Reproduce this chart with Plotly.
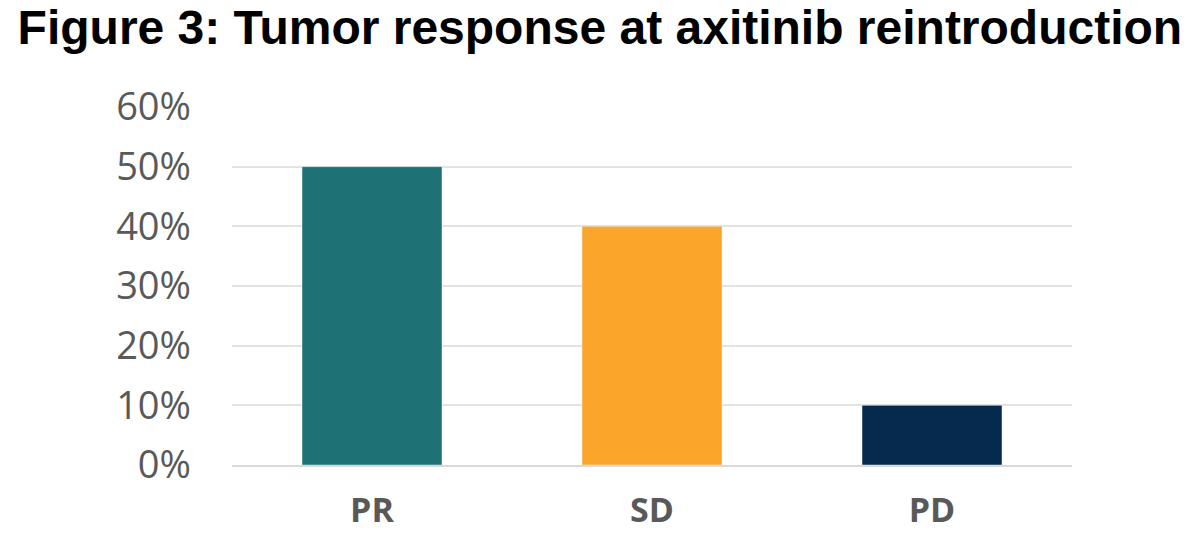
import plotly.graph_objects as go

categories = ["PR", "SD", "PD"]
values = [0.50, 0.40, 0.10]
colors = ["#1E7275", "#FBA62B", "#052A4D"]
tick_vals = [0, 0.1, 0.2, 0.3, 0.4, 0.5, 0.6]
tick_text = ["0%", "10%", "20%", "30%", "40%", "50%", "60%"]

fig = go.Figure(go.Bar(x=categories, y=values, marker_color=colors, width=0.5))
fig.update_layout(
    width=1200, height=543,
    margin=dict(l=224, r=136, t=99, b=86),
    paper_bgcolor="white", plot_bgcolor="white",
    showlegend=False,
    title=dict(text="<b>Figure 3: Tumor response at axitinib reintroduction</b>",
               x=0.008, xanchor="left", y=0.995, yanchor="top",
               font=dict(family="Liberation Sans, Arial", size=48, color="black")),
    yaxis=dict(range=[0, 0.6], tickvals=tick_vals, ticktext=tick_text,
               showgrid=True, gridcolor="#E3E3E3", gridwidth=1.5, zeroline=False,
               ticks="", ticklabelstandoff=40,
               tickfont=dict(family="Open Sans, Liberation Sans", size=38, color="#595959")),
    xaxis=dict(showline=True, linecolor="#D9D9D9", linewidth=1.5, ticks="",
               tickfont=dict(family="Open Sans, Liberation Sans", size=34, color="#595959",
                             weight="bold"),
               ticklabelstandoff=14),
)
fig.write_html("out.html")
